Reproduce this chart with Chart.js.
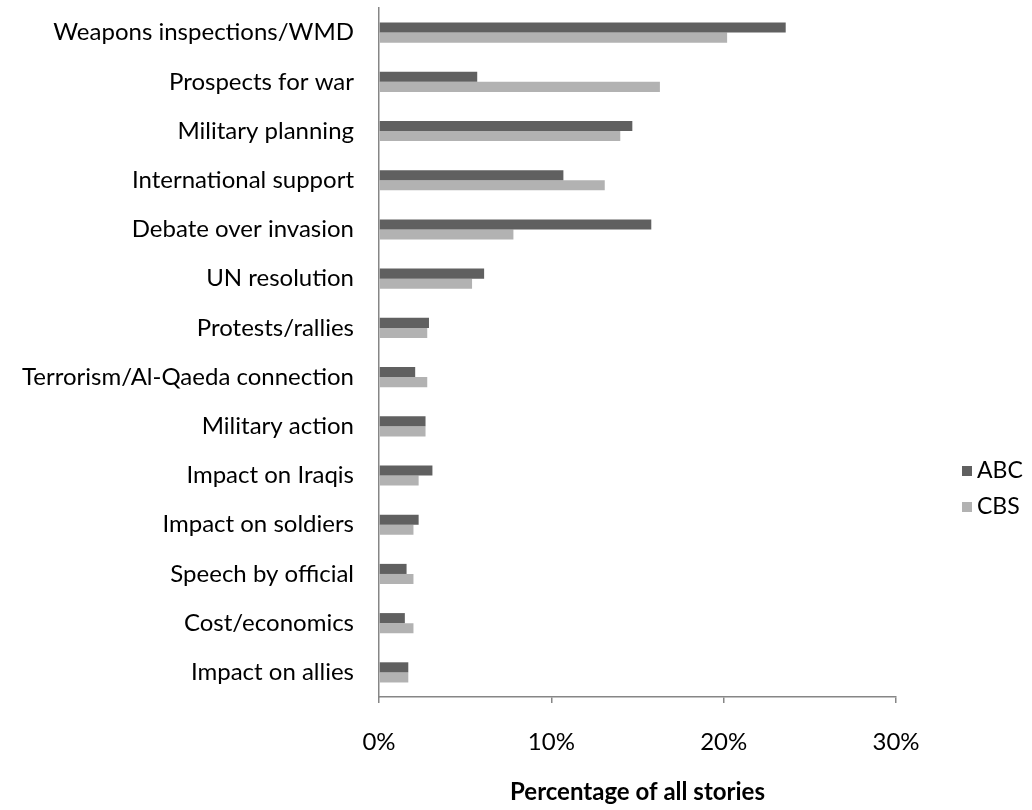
<!DOCTYPE html>
<html><head><meta charset="utf-8">
<script src="https://cdn.jsdelivr.net/npm/chart.js@4"></script>
<style>html,body{margin:0;padding:0;background:#fff}#wrap{width:1032px;height:810px;position:relative}</style>
</head><body><div id="wrap"><canvas id="c" width="1032" height="810"></canvas></div>
<script>
const categories = [
  'Weapons inspections/WMD', 'Prospects for war', 'Military planning', 'International support',
  'Debate over invasion', 'UN resolution', 'Protests/rallies', 'Terrorism/Al-Qaeda connection',
  'Military action', 'Impact on Iraqis', 'Impact on soldiers', 'Speech by official',
  'Cost/economics', 'Impact on allies'
];
const abcValues = [23.6, 5.7, 14.7, 10.7, 15.8, 6.1, 2.9, 2.1, 2.7, 3.1, 2.3, 1.6, 1.5, 1.7];
const cbsValues = [20.2, 16.3, 14.0, 13.1, 7.8, 5.4, 2.8, 2.8, 2.7, 2.3, 2.0, 2.0, 2.0, 1.7];
const seriesNames = ['ABC', 'CBS'];
const xTickValues = [0, 10, 20, 30];
const xTitle = 'Percentage of all stories';

const colors = ['#606060', '#b2b2b2'];
const FONT = 'Lato, "Open Sans", sans-serif';
const axisColor = '#868686';

const legendPlugin = {
  id: 'sideLegend',
  afterDraw(chart) {
    const ctx = chart.ctx;
    ctx.save();
    ctx.font = '23px ' + FONT;
    ctx.textBaseline = 'middle';
    ctx.textAlign = 'left';
    const ys = [471, 507];
    chart.data.datasets.forEach((ds, i) => {
      ctx.fillStyle = ds.backgroundColor;
      ctx.fillRect(962, ys[i] - 5, 10, 10);
      ctx.fillStyle = '#000';
      ctx.fillText(ds.label, 977, ys[i]);
    });
    ctx.restore();
  }
};

new Chart(document.getElementById('c'), {
  type: 'bar',
  data: {
    labels: categories,
    datasets: [
      { label: seriesNames[0], data: abcValues, backgroundColor: colors[0] },
      { label: seriesNames[1], data: cbsValues, backgroundColor: colors[1] }
    ]
  },
  options: {
    indexAxis: 'y',
    responsive: false,
    animation: false,
    devicePixelRatio: 1,
    layout: { autoPadding: false, padding: { top: 8, right: 136, bottom: 0, left: 0 } },
    categoryPercentage: 0.41,
    barPercentage: 1.0,
    plugins: { legend: { display: false }, tooltip: { enabled: false } },
    scales: {
      x: {
        min: 0, max: 30,
        afterBuildTicks(scale) { scale.ticks = xTickValues.map(v => ({ value: v })); },
        afterFit(scale) { scale.height = 113; scale.paddingLeft = 0; scale.paddingRight = 0; },
        ticks: { callback: v => v + '%', font: { family: FONT, size: 24 }, color: '#000', padding: 25, maxRotation: 0 },
        grid: { display: true, drawOnChartArea: false, drawTicks: true, tickLength: 6, color: axisColor, lineWidth: 1.5 },
        border: { display: true, color: axisColor, width: 1.5 },
        title: { display: true, text: xTitle, color: '#000', font: { family: FONT, size: 24, weight: 'bold' }, padding: { top: 0, bottom: 3 } }
      },
      y: {
        afterFit(scale) { scale.width = 379; scale.paddingTop = 0; scale.paddingBottom = 0; },
        ticks: { font: { family: FONT, size: 24 }, color: '#000', padding: 25, autoSkip: false },
        grid: { display: false, drawTicks: false },
        border: { display: true, color: axisColor, width: 1.5 }
      }
    }
  },
  plugins: [legendPlugin]
});
</script>
</body></html>
